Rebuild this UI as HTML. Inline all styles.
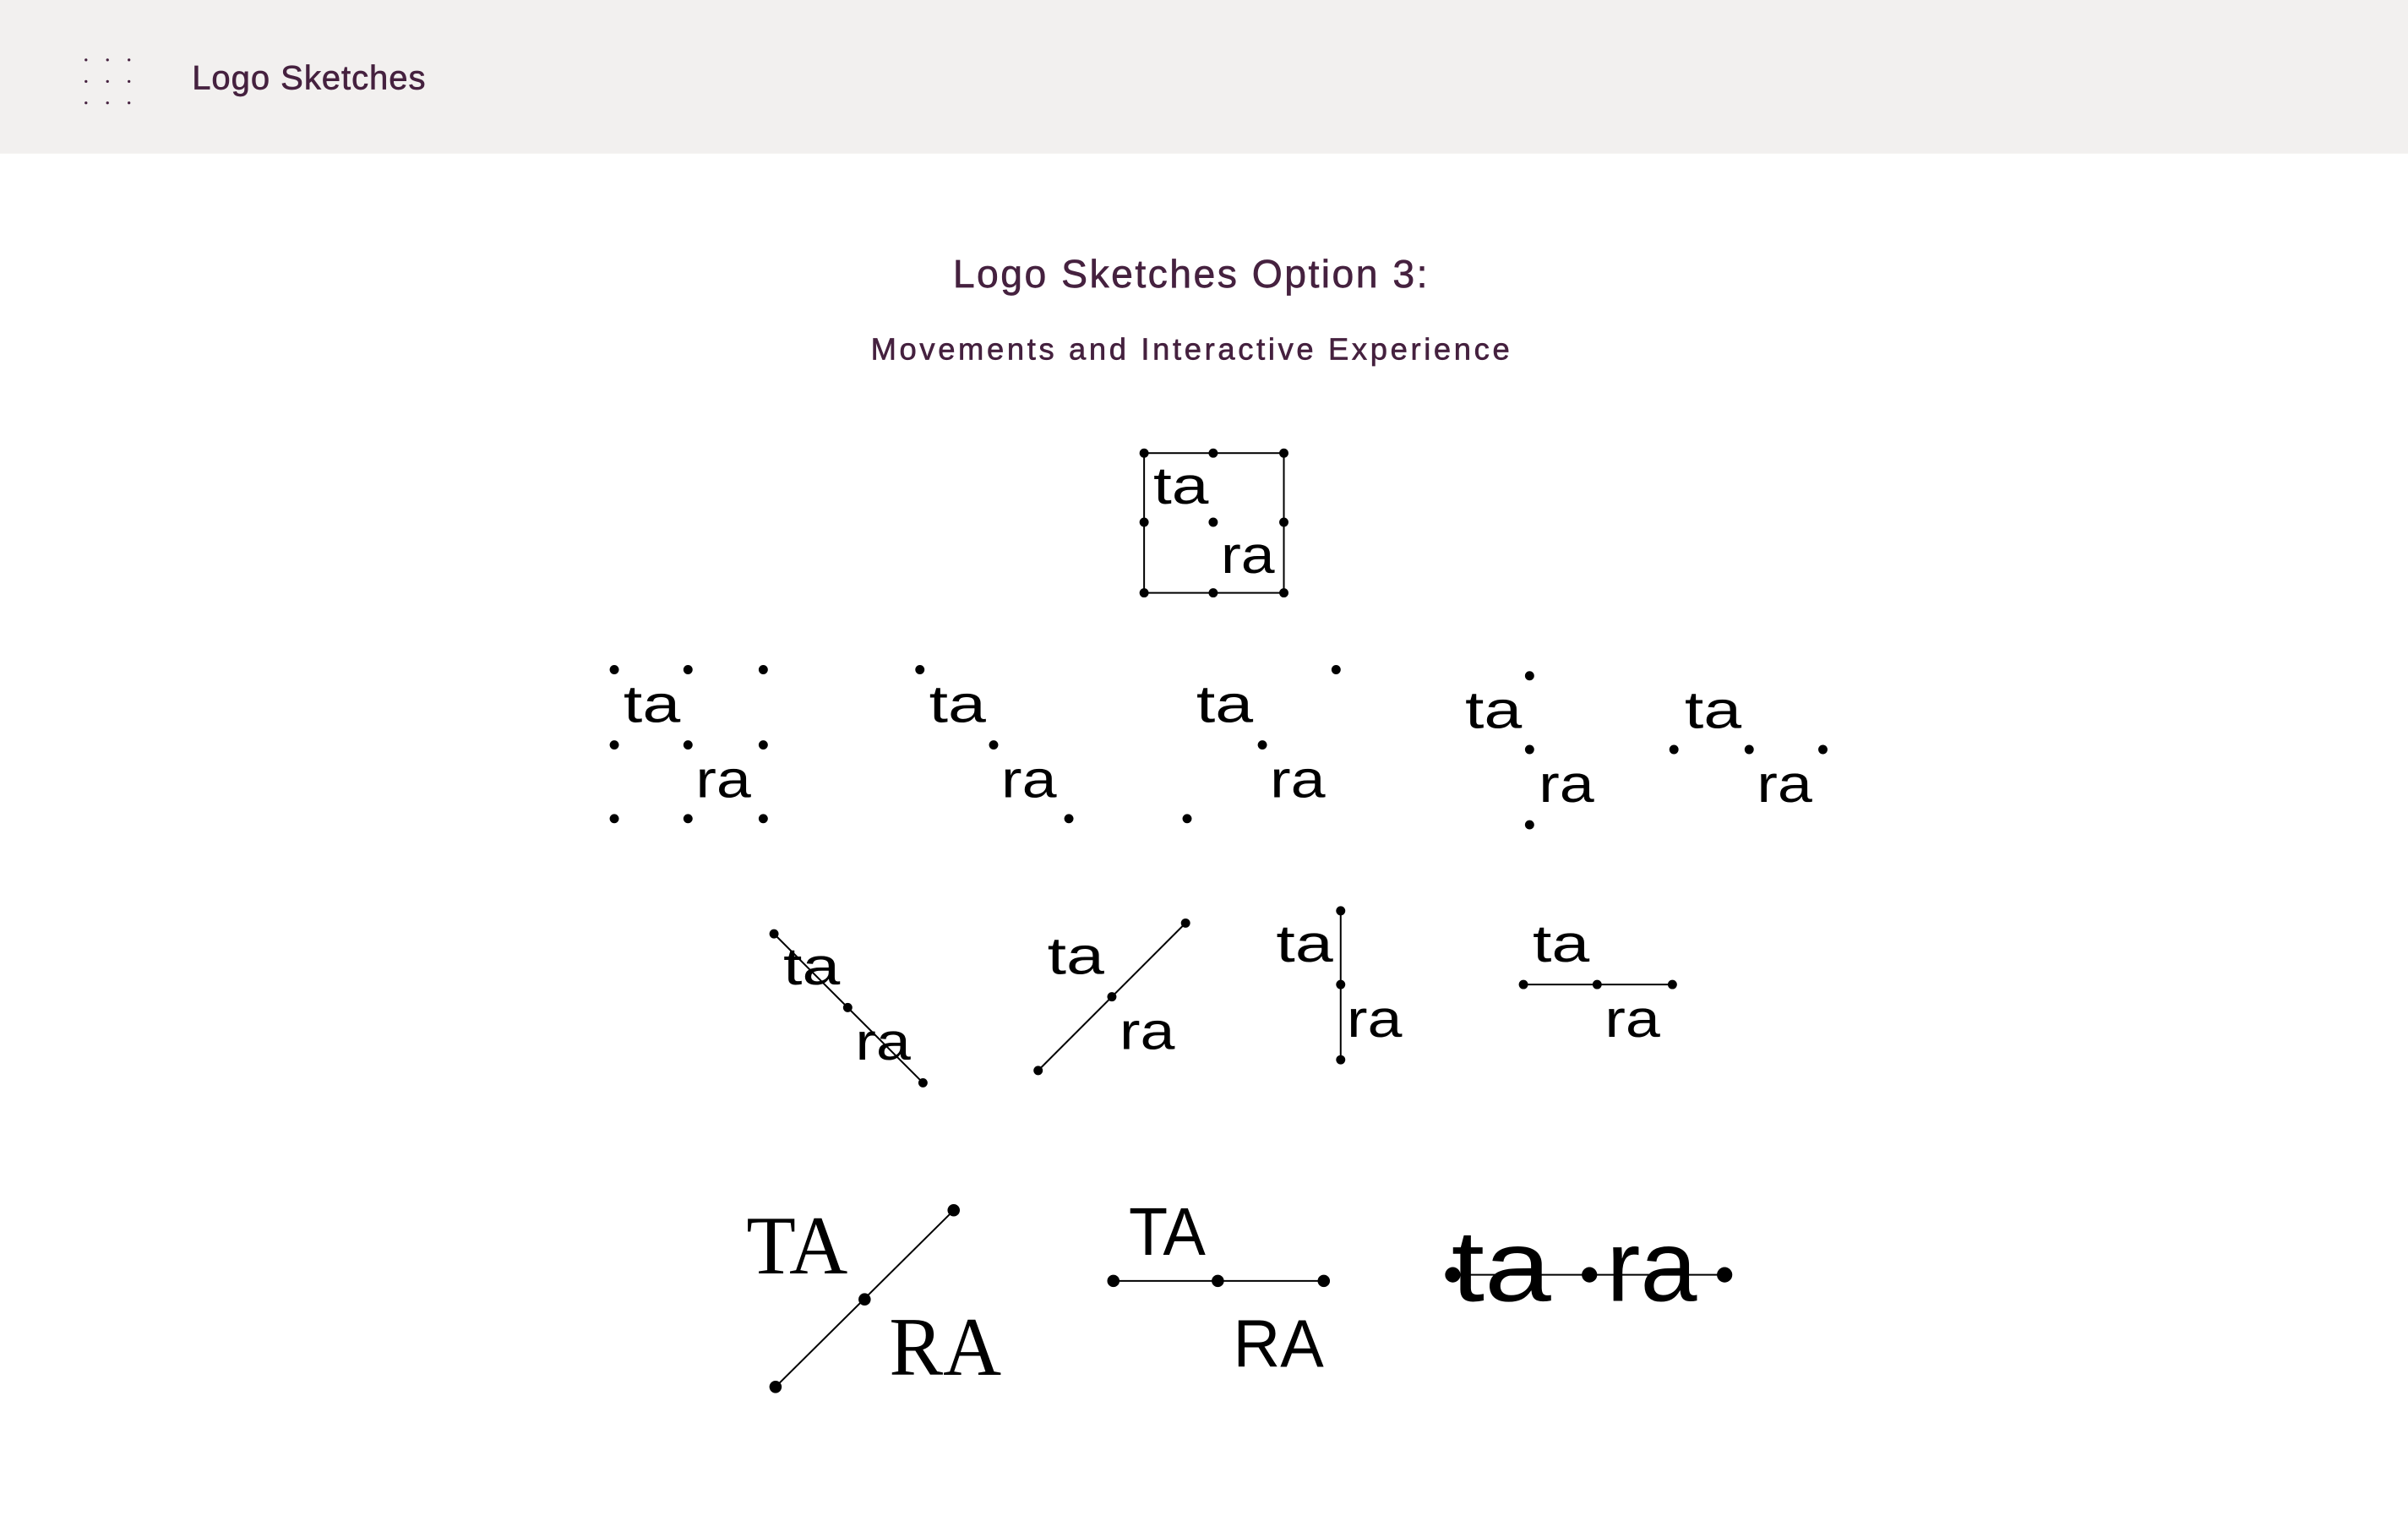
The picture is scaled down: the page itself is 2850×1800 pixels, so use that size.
<!DOCTYPE html>
<html><head><meta charset="utf-8"><style>
html,body{margin:0;padding:0;background:#fff;}
svg{display:block;}
</style></head><body>
<svg width="2850" height="1800" viewBox="0 0 1568 990.3" xmlns="http://www.w3.org/2000/svg">
<rect x="0" y="0" width="1568" height="100" fill="#f2f0ef"/>
<g fill="#45213f">
<circle cx="56" cy="39" r="0.9"/><circle cx="70" cy="39" r="0.9"/><circle cx="84" cy="39" r="0.9"/>
<circle cx="56" cy="53" r="0.9"/><circle cx="70" cy="53" r="0.9"/><circle cx="84" cy="53" r="0.9"/>
<circle cx="56" cy="67" r="0.9"/><circle cx="70" cy="67" r="0.9"/><circle cx="84" cy="67" r="0.9"/>
</g>
<g font-family="Liberation Sans, DejaVu Sans, sans-serif" fill="#45213f" stroke="#45213f" stroke-width="0.35">
<text x="125" y="58" font-size="22" textLength="152">Logo Sketches</text>
<text x="775" y="187" font-size="25.5" text-anchor="middle" textLength="309">Logo Sketches Option 3:</text>
<text x="775" y="234" font-size="20" text-anchor="middle" textLength="416">Movements and Interactive Experience</text>
</g>
<g stroke="#000" stroke-width="1.1" fill="none">
<rect x="745" y="295" width="91" height="91"/>
<line x1="504" y1="608" x2="601" y2="705"/>
<line x1="676" y1="697" x2="772" y2="601"/>
<line x1="873" y1="593" x2="873" y2="690"/>
<line x1="992" y1="641" x2="1089" y2="641"/>
<line x1="505" y1="903" x2="621" y2="788"/>
<line x1="725" y1="834" x2="862" y2="834"/>
<line x1="946" y1="830" x2="1123" y2="830"/>
</g>
<g fill="#000">
<circle cx="745" cy="295" r="3"/><circle cx="790" cy="295" r="3"/><circle cx="836" cy="295" r="3"/>
<circle cx="745" cy="340" r="3"/><circle cx="790" cy="340" r="3"/><circle cx="836" cy="340" r="3"/>
<circle cx="745" cy="386" r="3"/><circle cx="790" cy="386" r="3"/><circle cx="836" cy="386" r="3"/>

<circle cx="400" cy="436" r="3"/><circle cx="448" cy="436" r="3"/><circle cx="497" cy="436" r="3"/>
<circle cx="400" cy="485" r="3"/><circle cx="448" cy="485" r="3"/><circle cx="497" cy="485" r="3"/>
<circle cx="400" cy="533" r="3"/><circle cx="448" cy="533" r="3"/><circle cx="497" cy="533" r="3"/>

<circle cx="599" cy="436" r="3"/><circle cx="647" cy="485" r="3"/><circle cx="696" cy="533" r="3"/>
<circle cx="870" cy="436" r="3"/><circle cx="822" cy="485" r="3"/><circle cx="773" cy="533" r="3"/>
<circle cx="996" cy="440" r="3"/><circle cx="996" cy="488" r="3"/><circle cx="996" cy="537" r="3"/>
<circle cx="1090" cy="488" r="3"/><circle cx="1139" cy="488" r="3"/><circle cx="1187" cy="488" r="3"/>

<circle cx="504" cy="608" r="3"/><circle cx="552" cy="656" r="3"/><circle cx="601" cy="705" r="3"/>
<circle cx="676" cy="697" r="3"/><circle cx="724" cy="649" r="3"/><circle cx="772" cy="601" r="3"/>
<circle cx="873" cy="593" r="3"/><circle cx="873" cy="641" r="3"/><circle cx="873" cy="690" r="3"/>
<circle cx="992" cy="641" r="3"/><circle cx="1040" cy="641" r="3"/><circle cx="1089" cy="641" r="3"/>

<circle cx="505" cy="903" r="4"/><circle cx="563" cy="846" r="4"/><circle cx="621" cy="788" r="4"/>
<circle cx="725" cy="834" r="4"/><circle cx="793" cy="834" r="4"/><circle cx="862" cy="834" r="4"/>
<circle cx="946" cy="830" r="5"/><circle cx="1035" cy="830" r="5"/><circle cx="1123" cy="830" r="5"/>
</g>
<g font-family="Liberation Sans, DejaVu Sans, sans-serif" fill="#000" font-size="34">
<text x="751" y="328" textLength="36" lengthAdjust="spacingAndGlyphs">ta</text>
<text x="795" y="373" textLength="35" lengthAdjust="spacingAndGlyphs">ra</text>
<text x="406" y="470" textLength="37" lengthAdjust="spacingAndGlyphs">ta</text>
<text x="453" y="519" textLength="36" lengthAdjust="spacingAndGlyphs">ra</text>
<text x="605" y="470" textLength="37" lengthAdjust="spacingAndGlyphs">ta</text>
<text x="652" y="519" textLength="36" lengthAdjust="spacingAndGlyphs">ra</text>
<text x="779" y="470" textLength="37" lengthAdjust="spacingAndGlyphs">ta</text>
<text x="827" y="519" textLength="36" lengthAdjust="spacingAndGlyphs">ra</text>
<text x="954" y="474" textLength="37" lengthAdjust="spacingAndGlyphs">ta</text>
<text x="1002" y="522" textLength="36" lengthAdjust="spacingAndGlyphs">ra</text>
<text x="1097" y="474" textLength="37" lengthAdjust="spacingAndGlyphs">ta</text>
<text x="1144" y="522" textLength="36" lengthAdjust="spacingAndGlyphs">ra</text>
<text x="510" y="641" textLength="37" lengthAdjust="spacingAndGlyphs">ta</text>
<text x="557" y="690" textLength="36" lengthAdjust="spacingAndGlyphs">ra</text>
<text x="682" y="634" textLength="37" lengthAdjust="spacingAndGlyphs">ta</text>
<text x="729" y="683" textLength="36" lengthAdjust="spacingAndGlyphs">ra</text>
<text x="831" y="626" textLength="37" lengthAdjust="spacingAndGlyphs">ta</text>
<text x="877" y="675" textLength="36" lengthAdjust="spacingAndGlyphs">ra</text>
<text x="998" y="626" textLength="37" lengthAdjust="spacingAndGlyphs">ta</text>
<text x="1045" y="675" textLength="36" lengthAdjust="spacingAndGlyphs">ra</text>
<text x="735" y="817" font-size="44" textLength="50" lengthAdjust="spacingAndGlyphs">TA</text>
<text x="803" y="890" font-size="44" textLength="59" lengthAdjust="spacingAndGlyphs">RA</text>
<text x="945" y="847" font-size="66" textLength="65" lengthAdjust="spacingAndGlyphs">ta</text>
<text x="1046" y="847" font-size="66" textLength="59" lengthAdjust="spacingAndGlyphs">ra</text>
</g>
<g font-family="Liberation Serif, DejaVu Serif, serif" fill="#000" font-size="54">
<text x="486" y="829" textLength="66" lengthAdjust="spacingAndGlyphs">TA</text>
<text x="579" y="895" textLength="73" lengthAdjust="spacingAndGlyphs">RA</text>
</g>
</svg>
</body></html>
